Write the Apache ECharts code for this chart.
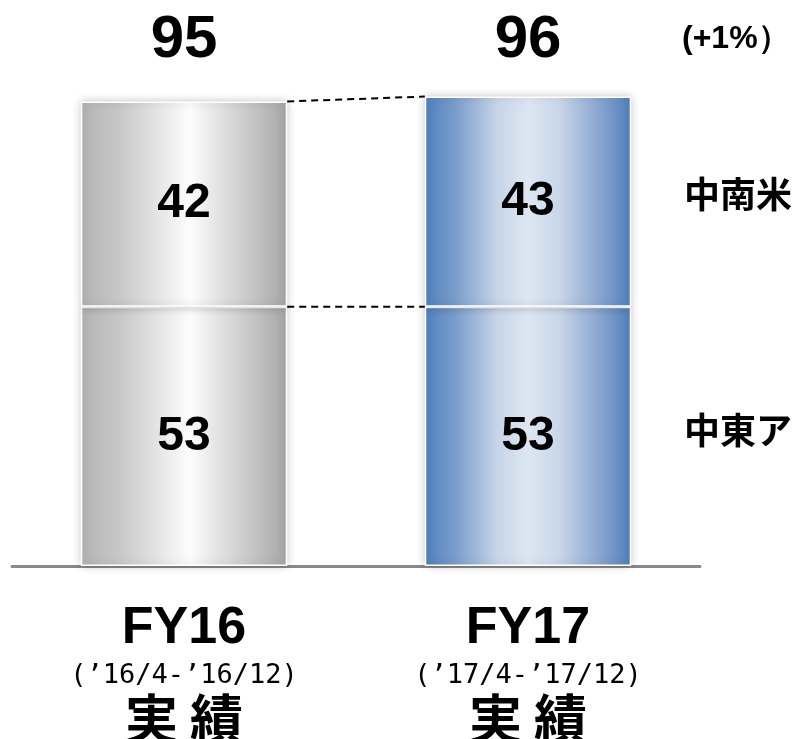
<!DOCTYPE html>
<html>
<head>
<meta charset="utf-8">
<script src="https://cdn.jsdelivr.net/npm/echarts@6/dist/echarts.min.js"></script>
<style>
  html, body { margin: 0; padding: 0; background: #fff; }
  #chart { width: 796px; height: 739px; }
</style>
</head>
<body>
<div id="chart"></div>
<script>
// Fiscal periods and their date ranges
const categories = ['FY16', 'FY17'];
const periods = ['(\u201916/4-\u201916/12)', '(\u201917/4-\u201917/12)'];
const resultWord = '実 績';

// Regional values (stack order: bottom to top)
const middleEastAfrica = [53, 53];
const latinAmerica = [42, 43];
const regionNames = ['中東ア', '中南米'];
const growthText = '(+1%）';

const totals = categories.map((_, i) => middleEastAfrica[i] + latinAmerica[i]);

const NUM_FONT = '"Liberation Sans", Arial, sans-serif';
const JP_FONT = '"Noto Sans CJK JP", "Noto Sans", sans-serif';
const BAR_RATIO = 0.6;

const grayFill = new echarts.graphic.LinearGradient(0, 0, 1, 0, [
  { offset: 0, color: '#b3b3b3' },
  { offset: 0.2, color: '#c9c9c9' },
  { offset: 0.4, color: '#e9e9e9' },
  { offset: 0.53, color: '#fdfdfd' },
  { offset: 0.66, color: '#e4e4e4' },
  { offset: 0.85, color: '#c2c2c2' },
  { offset: 1, color: '#a6a6a6' }
]);
const blueFill = new echarts.graphic.LinearGradient(0, 0, 1, 0, [
  { offset: 0, color: '#4f81bd' },
  { offset: 0.15, color: '#7b9dcb' },
  { offset: 0.35, color: '#c6d5e8' },
  { offset: 0.5, color: '#dde7f2' },
  { offset: 0.65, color: '#c9d7e9' },
  { offset: 0.85, color: '#88a5d0' },
  { offset: 1, color: '#5080bd' }
]);
const fills = [grayFill, blueFill];

function barData(values) {
  return values.map((v, i) => ({ value: v, itemStyle: { color: fills[i] } }));
}

const barStyle = {
  borderColor: '#ffffff',
  borderWidth: 1.5,
  shadowBlur: 8,
  shadowColor: 'rgba(0,0,0,0.22)'
};
const valueLabel = {
  show: true,
  position: 'inside',
  fontFamily: NUM_FONT,
  fontWeight: 'bold',
  fontSize: 48,
  color: '#000'
};

const chart = echarts.init(document.getElementById('chart'), null, { renderer: 'canvas' });

const option = {
  animation: false,
  backgroundColor: '#ffffff',
  grid: { left: 12, right: 96, top: 77, bottom: 173, containLabel: false, outerBoundsMode: 'none' },
  xAxis: [
    {
      type: 'category',
      data: categories,
      position: 'bottom',
      axisLine: { show: true, lineStyle: { color: '#888888', width: 3 } },
      axisTick: { show: false },
      axisLabel: {
        margin: 39,
        formatter: (v, i) => '{a|' + v + '}\n{b|' + periods[i] + '}\n{c|' + resultWord + '}',
        rich: {
          a: { fontFamily: NUM_FONT, fontWeight: 'bold', fontSize: 52, lineHeight: 48, color: '#000' },
          b: { fontFamily: '"DejaVu Sans Mono", monospace', fontSize: 27, lineHeight: 45, color: '#000' },
          c: { fontFamily: JP_FONT, fontWeight: 'bold', fontSize: 53, lineHeight: 42, color: '#000' }
        }
      }
    },
    {
      type: 'category',
      data: categories,
      position: 'top',
      axisLine: { show: false },
      axisTick: { show: false },
      axisLabel: {
        margin: 7,
        formatter: (v, i) => String(totals[i]),
        fontFamily: NUM_FONT,
        fontWeight: 'bold',
        fontSize: 60,
        lineHeight: 60,
        color: '#000'
      }
    }
  ],
  yAxis: { type: 'value', min: 0, max: 100, show: false },
  series: [
    {
      name: regionNames[0],
      type: 'bar',
      stack: 'total',
      barWidth: (BAR_RATIO * 100) + '%',
      data: barData(middleEastAfrica),
      itemStyle: barStyle,
      label: valueLabel
    },
    {
      name: regionNames[1],
      type: 'bar',
      stack: 'total',
      data: barData(latinAmerica),
      itemStyle: barStyle,
      label: valueLabel
    },
    {
      // dashed connectors between the segment tops of consecutive bars
      type: 'custom',
      coordinateSystem: 'cartesian2d',
      encode: { x: 0, y: 1 },
      data: [
        [0, totals[0], 1, totals[1]],
        [0, middleEastAfrica[0], 1, middleEastAfrica[1]]
      ],
      z: 5,
      renderItem: function (params, api) {
        const p0 = api.coord([api.value(0), api.value(1)]);
        const p1 = api.coord([api.value(2), api.value(3)]);
        const bw = api.size([1, 0])[0] * BAR_RATIO;
        return {
          type: 'line',
          shape: { x1: p0[0] + bw / 2, y1: p0[1], x2: p1[0] - bw / 2, y2: p1[1] },
          style: { stroke: '#000', lineWidth: 2, lineDash: [7, 5] }
        };
      }
    }
  ]
};

chart.setOption(option);

// Region names beside the last bar, plus the growth note beside the last total
const lastIdx = categories.length - 1;
const yMidLow = chart.convertToPixel({ gridIndex: 0 }, [lastIdx, middleEastAfrica[lastIdx] / 2])[1];
const yMidHigh = chart.convertToPixel({ gridIndex: 0 }, [lastIdx, middleEastAfrica[lastIdx] + latinAmerica[lastIdx] / 2])[1];
const xRight = 684;

chart.setOption({
  graphic: [
    {
      type: 'text', left: xRight, top: yMidLow - 24,
      style: { text: regionNames[0], font: 'bold 36px ' + JP_FONT, fill: '#000' }
    },
    {
      type: 'text', left: xRight, top: yMidHigh - 25,
      style: { text: regionNames[1], font: 'bold 36px ' + JP_FONT, fill: '#000' }
    },
    {
      type: 'text', left: 682, top: 23,
      style: { text: growthText, font: 'bold 32px ' + NUM_FONT, fill: '#000' }
    }
  ]
});
</script>
</body>
</html>
